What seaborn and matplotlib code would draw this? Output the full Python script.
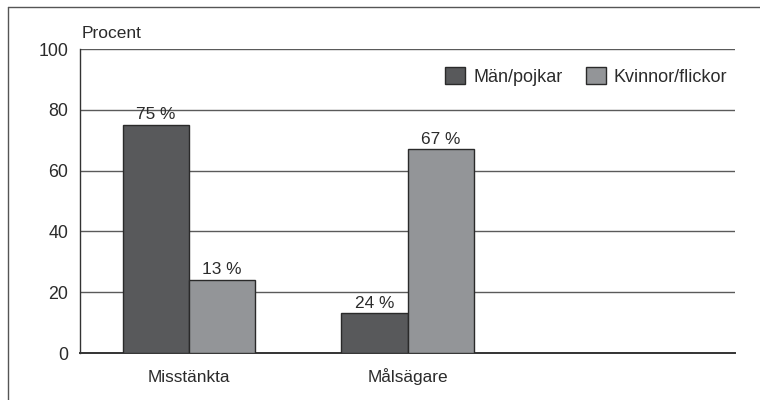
import matplotlib
matplotlib.use("Agg")
import matplotlib.pyplot as plt
import seaborn as sns
import pandas as pd
from matplotlib.lines import Line2D

categories = ["Misstänkta", "Målsägare", ""]
series = ["Män/pojkar", "Kvinnor/flickor"]
man_values = [75, 13, 0]
kvinna_values = [24, 67, 0]
# value labels as printed in the source (first two groups)
man_labels = ["75 %", "24 %"]
kvinna_labels = ["13 %", "67 %"]
yticks = [0, 20, 40, 60, 80, 100]
colors = ["#58595b", "#939598"]

df = pd.DataFrame({
    "kategori": categories * 2,
    "kon": [series[0]] * 3 + [series[1]] * 3,
    "varde": man_values + kvinna_values,
})

sns.set_theme(style="white")
plt.rcParams["font.family"] = ["Liberation Sans", "DejaVu Sans"]

txt = "#2b2b2b"
fig = plt.figure(figsize=(7.6, 4), dpi=100)
ax = fig.add_axes([80 / 760, 47 / 400, 655 / 760, 304 / 400])

sns.barplot(data=df, x="kategori", y="varde", hue="kon", order=categories,
            hue_order=series, palette=colors, width=0.605, ax=ax,
            edgecolor="#2a2a2a", linewidth=1.0, saturation=1, zorder=3)

ax.set_xlim(-0.5, 2.5)
ax.set_ylim(0, 100)
ax.set_yticks(yticks)
ax.set_yticklabels([str(v) for v in yticks], fontsize=12.8, color=txt)
ax.tick_params(axis="x", labelsize=12.4, colors=txt, length=0, pad=21)
ax.tick_params(axis="y", length=0, pad=8.5)
plt.setp(ax.get_xticklabels(), va="baseline")
ax.set_xlabel("")
ax.set_ylabel("")
for y in yticks[1:]:
    ax.axhline(y, color="#5a5a5a", linewidth=1.0, zorder=1)

for s in ["top", "right"]:
    ax.spines[s].set_visible(False)
ax.spines["left"].set_color("#333333")
ax.spines["left"].set_linewidth(1.0)
ax.spines["bottom"].set_color("#333333")
ax.spines["bottom"].set_linewidth(1.4)

# value labels
for cont, labels in zip(ax.containers, [man_labels, kvinna_labels]):
    ax.bar_label(cont, labels=labels + [""] * (len(cont) - len(labels)),
                 padding=2, fontsize=12.4, color=txt)

leg = ax.legend(loc="upper right", ncol=2, frameon=False, fontsize=13,
                handlelength=1.1, handleheight=1.1, columnspacing=1.3,
                handletextpad=0.45, bbox_to_anchor=(1.013, 0.995))
for t in leg.get_texts():
    t.set_color(txt)

ax.text(0.002, 1.027, "Procent", transform=ax.transAxes, fontsize=12.5,
        color=txt, ha="left", va="bottom")

# outer frame (top and left lines)
fig.add_artist(Line2D([8 / 760, 8 / 760], [0, 1 - 7 / 400], transform=fig.transFigure,
                      color="#555555", linewidth=1.0))
fig.add_artist(Line2D([8 / 760, 1], [1 - 7 / 400, 1 - 7 / 400], transform=fig.transFigure,
                      color="#555555", linewidth=1.0))

fig.savefig("out.png", dpi=100)
